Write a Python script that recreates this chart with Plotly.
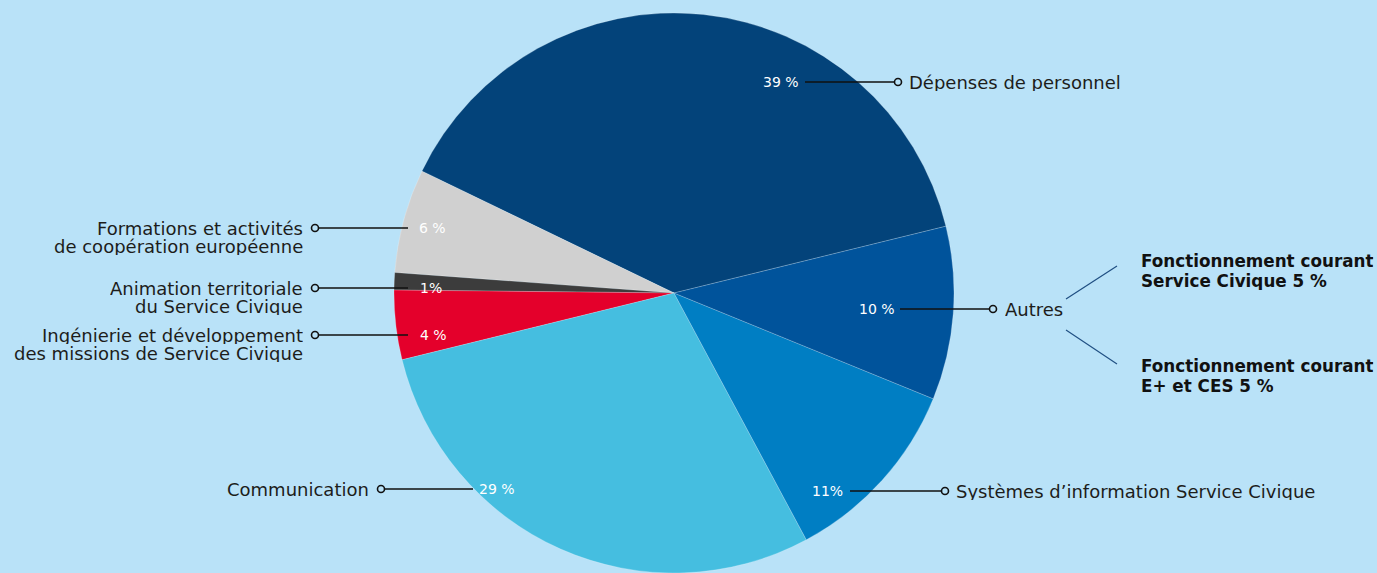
import plotly.graph_objects as go

# ---- data ----
categories = [
    "Dépenses de personnel",
    "Formations et activités de coopération européenne",
    "Animation territoriale du Service Civique",
    "Ingénierie et développement des missions de Service Civique",
    "Communication",
    "Systèmes d'information Service Civique",
    "Autres",
]
values = [39, 6, 1, 4, 29, 11, 10]
pct_labels = ["39 %", "6 %", "1%", "4 %", "29 %", "11%", "10 %"]
autres_detail = [("Fonctionnement courant", "Service Civique 5 %"),
                 ("Fonctionnement courant", "E+ et CES 5 %")]

colors = ["#03437a", "#d0d0d0", "#3c3c3c", "#e4002b", "#45bee0", "#007ec3", "#00539b"]

W, H = 1377, 573
TOP = 13
BG = "#b9e2f8"
TXT = "#1d1d1b"
FONT = "DejaVu Sans"

cx, r = 674, 280
# plotly places the first slice's clockwise edge at rotation + its own sweep when counterclockwise
start_cw = 76.2  # degrees clockwise from 12 o'clock where "Dépenses" begins
rotation = start_cw - values[0] / sum(values) * 360

fig = go.Figure()
fig.add_trace(go.Pie(
    labels=categories, values=values, sort=False, direction="counterclockwise",
    rotation=rotation, marker=dict(colors=colors, line=dict(color="rgba(255,255,255,0.35)", width=0.6)),
    textinfo="none", hoverinfo="label+percent", showlegend=False,
    domain=dict(x=[(cx - r) / W, (cx + r) / W], y=[0, 1]),
))

callouts = [
    (0, 781, 82, 805, 895, 898, 907, "left", [categories[0]]),
    (6, 877, 309, 900, 990, 993, 1003, "left", ["Autres"]),
    (5, 827, 491, 850, 942, 945, 954, "left", ["Systèmes d\u2019information Service Civique"]),
    (4, 497, 489, 384, 473, 381, 371, "right", ["Communication"]),
    (1, 432, 228, 318, 408, 315, 305, "right", ["Formations et activités", "de coopération européenne"]),
    (2, 431, 288, 318, 408, 315, 305, "right", ["Animation territoriale", "du Service Civique"]),
    (3, 433, 335, 318, 408, 315, 305, "right", ["Ingénierie et développement", "des missions de Service Civique"]),
]

annotations = []
shapes = []
circ_x, circ_y = [], []
for idx, px, y, x0, x1, ccx, lx, side, lines in callouts:
    shapes.append(dict(type="line", xref="x", yref="y", x0=x0, x1=x1, y0=y, y1=y,
                       line=dict(color="#111111", width=1.6), layer="above"))
    circ_x.append(ccx)
    circ_y.append(y)
    annotations.append(dict(x=px, y=y, xref="x", yref="y", text=pct_labels[idx],
                            showarrow=False, font=dict(family=FONT, size=14, color="white"),
                            xanchor="center", yanchor="middle"))
    for k, line in enumerate(lines):
        annotations.append(dict(x=lx, y=y + k * 18, xref="x", yref="y", text=line,
                                showarrow=False, font=dict(family=FONT, size=18, color=TXT),
                                xanchor=side, yanchor="middle", height=17))

fig.add_trace(go.Scatter(x=circ_x, y=circ_y, mode="markers",
                         marker=dict(symbol="circle", size=7, color=BG,
                                     line=dict(color="#111111", width=1.6)),
                         hoverinfo="skip", showlegend=False, xaxis="x", yaxis="y"))

for (xa, ya, xb, yb) in [(1066, 299, 1117, 266), (1066, 330, 1117, 364)]:
    shapes.append(dict(type="line", xref="x", yref="y", x0=xa, x1=xb, y0=ya, y1=yb,
                       line=dict(color="#1f4e82", width=1.2), layer="above"))

for (l1, l2), y in zip(autres_detail, [261, 366]):
    for k, t in enumerate([l1, l2]):
        annotations.append(dict(x=1139, y=y + k * 19.5, xref="x", yref="y", text="<b>%s</b>" % t,
                                showarrow=False, font=dict(family=FONT, size=16.8, color="#111111"),
                                xanchor="left", yanchor="middle", height=18))

fig.update_layout(
    width=W, height=H,
    margin=dict(l=0, r=0, t=TOP, b=0),
    paper_bgcolor=BG, plot_bgcolor="rgba(0,0,0,0)",
    xaxis=dict(range=[0, W], domain=[0, 1], visible=False, fixedrange=True),
    yaxis=dict(range=[H, TOP], domain=[0, 1], visible=False, fixedrange=True),
    annotations=annotations,
    shapes=shapes,
    showlegend=False,
)

fig.write_html("out.html", config={"displayModeBar": False},
               post_script="document.body.style.margin='0px';")
